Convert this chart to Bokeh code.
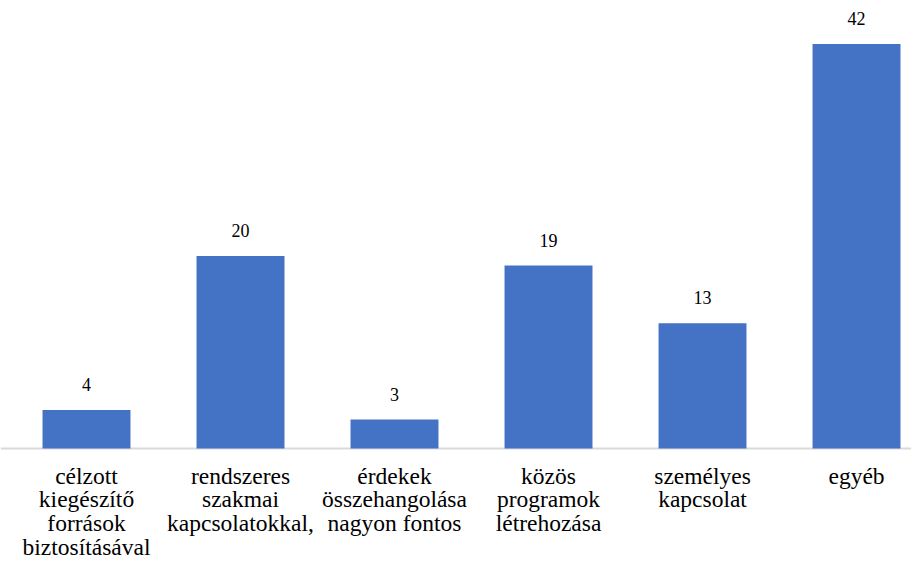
from bokeh.plotting import figure
from bokeh.models import ColumnDataSource, LabelSet, Range1d, Span
from bokeh.core.properties import value
from bokeh.embed import file_html
from bokeh.resources import INLINE

categories = [
    "célzott\nkiegészítő\nforrások\nbiztosításával",
    "rendszeres\nszakmai\nkapcsolatokkal,",
    "érdekek\nösszehangolása\nnagyon fontos",
    "közös\nprogramok\nlétrehozása",
    "személyes\nkapcsolat",
    "egyéb",
]
values = [4, 20, 3, 19, 13, 42]

positions = list(range(len(categories)))
labels = [str(v) for v in values]
baseline = [0] * len(categories)

source = ColumnDataSource(data=dict(x=positions, top=values, label=labels,
                                    cat=categories, base=baseline))

p = figure(
    width=911, height=563,
    x_range=Range1d(-0.5584, 5.357), y_range=Range1d(-11.94, 46.52),
    output_backend="svg", toolbar_location=None,
    x_axis_location=None, y_axis_location=None,
    min_border=0, min_border_left=0, min_border_right=0,
    min_border_top=0, min_border_bottom=0,
)
p.xgrid.visible = False
p.ygrid.visible = False
p.outline_line_color = None

p.add_layout(Span(location=0, dimension="width", line_color="#D9D9D9",
                  line_width=2, level="underlay"))

p.vbar(x="x", top="top", bottom=0, width=0.571, source=source,
       fill_color="#4472C4", line_color=None)

p.add_layout(LabelSet(x="x", y="top", text="label", source=source,
                      text_align="center", text_baseline="alphabetic",
                      y_offset=19, text_font="Open Sans",
                      text_font_size="18px", text_font_style="normal",
                      text_color="#000000"))

p.text(x="x", y="base", text="cat", source=source,
       text_align="center", text_baseline="top", y_offset=14,
       text_font=value("Liberation Serif"), text_font_size="23.5px",
       text_line_height=0.92, text_color="#000000")

open("out.html", "w").write(file_html(p, INLINE))
